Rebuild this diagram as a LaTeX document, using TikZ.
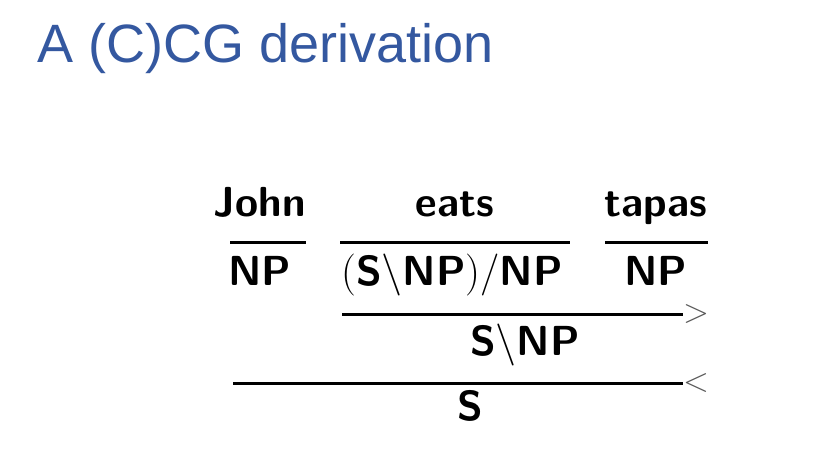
\documentclass[tikz,border=0pt]{standalone}
\usepackage{fontspec}
\newfontfamily\titlefont{Liberation Sans}
\definecolor{titleblue}{RGB}{52,88,160}
\tikzset{
  word/.style={anchor=base,inner sep=0pt,font=\fontsize{42}{48}\selectfont\sffamily\bfseries},
  cat/.style={anchor=base,inner sep=0pt,font=\fontsize{42}{48}\selectfont\sffamily\bfseries},
  rule/.style={line width=3pt},
  opr/.style={anchor=west,inner sep=0pt,font=\fontsize{34}{40}\selectfont\rmfamily,text=black!65}
}
\newcommand{\thin}[1]{{\rmfamily\mdseries #1}}
\begin{document}
\begin{tikzpicture}[x=1pt,y=-1pt]
\useasboundingbox (0,0) rectangle (822,451);
\node[anchor=base west,inner sep=0pt,text=titleblue,font=\fontsize{54}{60}\selectfont\titlefont] (title) at (37,62) {A (C)CG derivation};
% words
\node[word] (john) at (260,216) {John};
\node[word] (eats) at (455,216) {eats};
\node[word] (tapas) at (656,216) {tapas};
% lexical lines
\coordinate (l1a) at (230,242); \coordinate (l1b) at (306,242);
\coordinate (l2a) at (340,242); \coordinate (l2b) at (570,242);
\coordinate (l3a) at (605,242); \coordinate (l3b) at (708,242);
\draw[rule] (l1a) -- (l1b);
\draw[rule] (l2a) -- (l2b);
\draw[rule] (l3a) -- (l3b);
% categories
\node[cat] (np1) at (260,285) {NP};
\node[cat] (vcat) at (452,285) {\thin{(}S\thin{\textbackslash}NP\thin{)/}NP};
\node[cat] (np2) at (656,285) {NP};
% forward application
\coordinate (f1a) at (342,314); \coordinate (f1b) at (683,314);
\draw[rule] (f1a) -- (f1b);
\node[opr] (fwd) at (f1b) {>};
\node[cat] (snp) at (525,355) {S\thin{\textbackslash}NP};
% backward application
\coordinate (b1a) at (233,383); \coordinate (b1b) at (683,383);
\draw[rule] (b1a) -- (b1b);
\node[opr] (bwd) at (b1b) {<};
\node[cat] (s) at (470,420) {S};
\end{tikzpicture}
\end{document}
